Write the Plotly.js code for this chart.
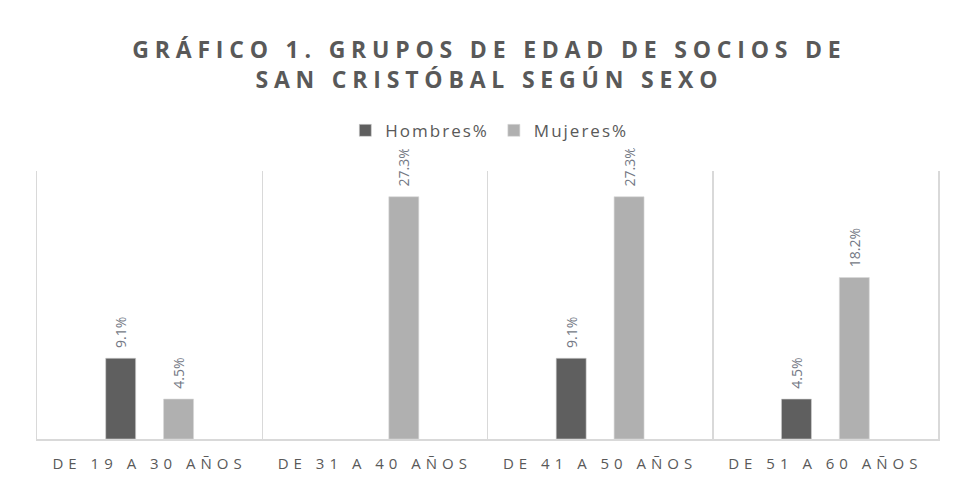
<!DOCTYPE html>
<html>
<head>
<meta charset="utf-8">
<script src="https://cdn.plot.ly/plotly-3.0.1.min.js"></script>
<style>
  html, body { margin: 0; padding: 0; background: #fff; }
  #chart { width: 954px; height: 477px; }
  .gtitle { letter-spacing: 5.8px; }
  .xtick text { letter-spacing: 5px; }
  .legendtext { letter-spacing: 2px; }
</style>
</head>
<body>
<div id="chart"></div>
<script>
const categories = ['DE 19 A 30 AÑOS', 'DE 31 A 40 AÑOS', 'DE 41 A 50 AÑOS', 'DE 51 A 60 AÑOS'];
const hombres = [9.1, null, 9.1, 4.5];
const mujeres = [4.5, 27.3, 27.3, 18.2];
const seriesNames = ['Hombres%', 'Mujeres%'];

const labelFont = { family: 'Open Sans, sans-serif', size: 14, color: '#737884' };
const pad = '\u00a0\u00a0';

const traces = [
  {
    type: 'bar', name: seriesNames[0], x: categories, y: hombres,
    width: 0.133, offset: -0.195,
    marker: { color: '#5f5f5f', line: { color: '#d0d0d0', width: 0.6 } },
    texttemplate: pad + '%{y:.1f}%', textposition: 'outside', textangle: -90,
    textfont: labelFont, cliponaxis: false, constraintext: 'none', hoverinfo: 'none'
  },
  {
    type: 'bar', name: seriesNames[1], x: categories, y: mujeres,
    width: 0.133, offset: 0.062,
    marker: { color: '#b0b0b0', line: { color: '#d8d8d8', width: 0.6 } },
    texttemplate: pad + '%{y:.1f}%', textposition: 'outside', textangle: -90,
    textfont: labelFont, cliponaxis: false, constraintext: 'none', hoverinfo: 'none'
  }
];

const layout = {
  width: 954, height: 477,
  margin: { l: 37, r: 16, t: 171, b: 38 },
  paper_bgcolor: '#ffffff', plot_bgcolor: '#ffffff',
  title: {
    text: 'GRÁFICO 1. GRUPOS DE EDAD DE SOCIOS DE<br>SAN CRISTÓBAL SEGÚN SEXO',
    font: { family: 'Open Sans, sans-serif', size: 23, color: '#595959', weight: 'bold' },
    x: 0.513, xanchor: 'center', y: 0.879, yanchor: 'top'
  },
  showlegend: true,
  legend: {
    orientation: 'h', x: 0.502, xanchor: 'center', y: 1.15, yanchor: 'middle',
    font: { family: 'Open Sans, sans-serif', size: 17, color: '#595959' },
    itemwidth: 30, traceorder: 'normal'
  },
  barmode: 'overlay',
  xaxis: {
    type: 'category', tickson: 'boundaries', showgrid: true, gridcolor: '#d9d9d9', gridwidth: 1.5,
    showline: true, linecolor: '#d9d9d9', linewidth: 1.5, ticks: '', zeroline: false,
    tickfont: { family: 'Open Sans, sans-serif', size: 15, color: '#595959' },
    ticklabelstandoff: 10,
    range: [-0.5, 3.5], fixedrange: true
  },
  yaxis: {
    range: [0, 30.2], showgrid: false, showticklabels: false, zeroline: false,
    showline: true, mirror: true, linecolor: '#d9d9d9', linewidth: 1.5,
    ticks: '', fixedrange: true
  }
};

Plotly.newPlot('chart', traces, layout, { displayModeBar: false, staticPlot: true });
</script>
</body>
</html>
